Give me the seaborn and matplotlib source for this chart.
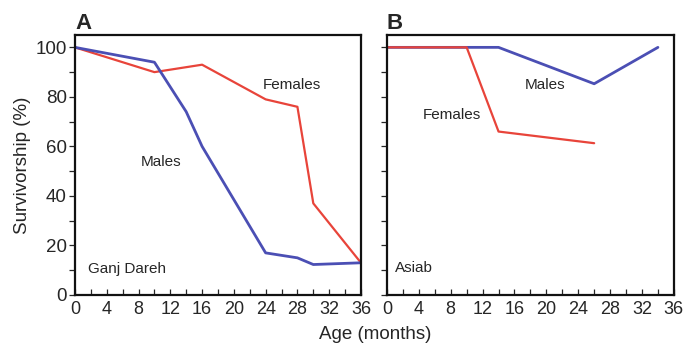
import numpy as np
import pandas as pd
import matplotlib
matplotlib.use("Agg")
import matplotlib.pyplot as plt
import seaborn as sns

# panel A - Ganj Dareh
ganj_male_age = [0, 10, 14, 16, 24, 28, 30, 36]
ganj_male_surv = [100, 94, 74, 60, 17, 15, 12.3, 13]
ganj_female_age = [0, 10, 16, 24, 28, 30, 36]
ganj_female_surv = [100, 90, 93, 79, 76, 37, 13]

# panel B - Asiab
asiab_male_age = [0, 10, 14, 26, 34]
asiab_male_surv = [100, 100, 100, 85.3, 100]
asiab_female_age = [0, 10, 14, 26]
asiab_female_surv = [100, 100, 66, 61.3]

x_ticks = list(range(0, 37, 4))
y_ticks = list(range(0, 101, 20))

blue = "#4b4fb4"
red = "#e8443a"

sns.set_style("ticks")
plt.rcParams["font.family"] = ["Liberation Sans", "DejaVu Sans"]

fig = plt.figure(figsize=(6.83, 3.43), dpi=100)
axA = fig.add_axes([0.1098, 0.140, 0.4187, 0.758])
axB = fig.add_axes([0.5666, 0.140, 0.4200, 0.758])

dfs = {
    "A": (pd.DataFrame({"age": ganj_male_age, "surv": ganj_male_surv}),
          pd.DataFrame({"age": ganj_female_age, "surv": ganj_female_surv})),
    "B": (pd.DataFrame({"age": asiab_male_age, "surv": asiab_male_surv}),
          pd.DataFrame({"age": asiab_female_age, "surv": asiab_female_surv})),
}

for ax, key in [(axA, "A"), (axB, "B")]:
    males, females = dfs[key]
    if key == "A":
        sns.lineplot(data=females, x="age", y="surv", ax=ax, color=red, lw=1.6)
        sns.lineplot(data=males, x="age", y="surv", ax=ax, color=blue, lw=2.0)
    else:
        sns.lineplot(data=males, x="age", y="surv", ax=ax, color=blue, lw=2.0)
        sns.lineplot(data=females, x="age", y="surv", ax=ax, color=red, lw=1.6)
    ax.set_xlim(0, 36)
    ax.set_ylim(0, 105)
    ax.set_xticks(x_ticks)
    ax.set_xticks(range(0, 37, 2), minor=True)
    ax.set_yticks(y_ticks)
    ax.set_yticks(range(0, 101, 10), minor=True)
    ax.tick_params(axis="x", which="both", direction="in", length=4, width=0.9,
                   labelsize=13, pad=4)
    ax.tick_params(axis="y", which="both", direction="out", length=4, width=0.9,
                   labelsize=13.5, pad=2)
    ax.set_xlabel("")
    ax.set_ylabel("")
    for s in ax.spines.values():
        s.set_visible(True)
        s.set_linewidth(1.6)
        s.set_color("#111111")
    ax.text(0.0, 1.005, key, transform=ax.transAxes, fontsize=16,
            fontweight="bold", ha="left", va="bottom")

axB.set_yticklabels([])

axA.set_ylabel("Survivorship (%)", fontsize=13.5, labelpad=3)
fig.text(0.549, 0.025, "Age (months)", fontsize=13.5, ha="center", va="center")

axA.text(27.3, 84.7, "Females", fontsize=11, ha="center", va="center")
axA.text(10.85, 53.7, "Males", fontsize=11, ha="center", va="center")
axA.text(1.6, 10.4, "Ganj Dareh", fontsize=11, ha="left", va="center")

axB.text(19.9, 84.7, "Males", fontsize=11, ha="center", va="center")
axB.text(8.2, 72.6, "Females", fontsize=11, ha="center", va="center")
axB.text(1.0, 10.8, "Asiab", fontsize=11, ha="left", va="center")

fig.savefig("out.png", dpi=100)
